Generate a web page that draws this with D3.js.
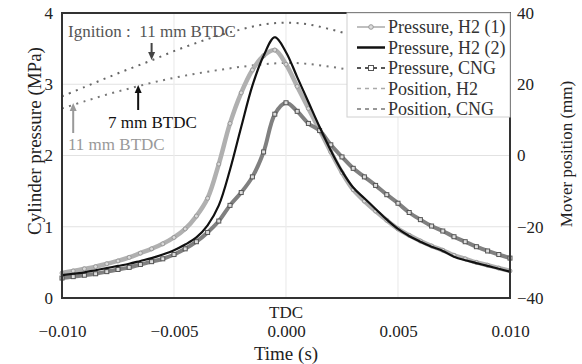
<!DOCTYPE html>
<html>
<head>
<meta charset="utf-8">
<script src="https://cdn.jsdelivr.net/npm/d3@7"></script>
<style>
  body { margin: 0; background: #fff; }
</style>
</head>
<body>
<svg id="chart" width="582" height="364"></svg>
<script>
// time axis for the pressure traces (s)
const timeP = [
  -0.010, -0.0095, -0.009, -0.0085, -0.008, -0.0075, -0.007, -0.0065, -0.006, -0.0055,
  -0.005, -0.0045, -0.004, -0.0035, -0.003, -0.0025, -0.002, -0.0015, -0.001, -0.0005,
  0.000, 0.0005, 0.001, 0.0015, 0.002, 0.0025, 0.003, 0.0035, 0.004, 0.0045,
  0.005, 0.0055, 0.006, 0.0065, 0.007, 0.0075, 0.008, 0.0085, 0.009, 0.0095, 0.010
];
// cylinder pressure (MPa)
const pressureH2a = [
  0.35, 0.38, 0.41, 0.44, 0.48, 0.52, 0.57, 0.63, 0.69, 0.76,
  0.85, 0.97, 1.15, 1.40, 1.88, 2.45, 2.88, 3.20, 3.40, 3.48,
  3.28, 2.97, 2.66, 2.36, 2.05, 1.76, 1.52, 1.36, 1.22, 1.09,
  0.97, 0.88, 0.80, 0.73, 0.67, 0.60, 0.55, 0.50, 0.46, 0.42, 0.38
];
const pressureH2b = [
  0.32, 0.34, 0.36, 0.39, 0.42, 0.45, 0.48, 0.52, 0.56, 0.61,
  0.67, 0.75, 0.85, 1.02, 1.30, 1.80, 2.40, 2.98, 3.40, 3.66,
  3.45, 3.10, 2.75, 2.40, 2.07, 1.78, 1.55, 1.40, 1.25, 1.10,
  0.97, 0.87, 0.79, 0.72, 0.66, 0.58, 0.53, 0.49, 0.45, 0.41, 0.37
];
const pressureCNG = [
  0.28, 0.30, 0.32, 0.34, 0.37, 0.40, 0.43, 0.47, 0.51, 0.55,
  0.61, 0.69, 0.79, 0.92, 1.08, 1.30, 1.48, 1.70, 2.05, 2.58,
  2.74, 2.62, 2.45, 2.35, 2.15, 1.98, 1.82, 1.70, 1.58, 1.45,
  1.33, 1.20, 1.10, 1.01, 0.94, 0.86, 0.79, 0.72, 0.66, 0.61, 0.56
];
// time axis for the mover position (s)
const timeX = [
  -0.010, -0.009, -0.008, -0.007, -0.006, -0.005, -0.004, -0.003, -0.002, -0.001,
  0.000, 0.001, 0.002, 0.003, 0.004, 0.005, 0.006, 0.007, 0.008, 0.009, 0.010
];
// mover position (mm)
const positionH2 = [
  13.2, 15.2, 17.1, 18.8, 20.4, 21.8, 23.0, 24.0, 24.9, 25.6,
  26.0, 25.7, 24.9, 23.9, 22.8, 21.5, 20.1, 18.6, 16.9, 15.0, 13.0
];
const positionCNG = [
  16.6, 19.2, 21.8, 24.3, 26.7, 29.3, 31.6, 33.7, 35.4, 36.8,
  37.3, 36.8, 35.4, 33.6, 31.5, 29.2, 26.7, 24.0, 21.2, 18.4, 15.6
];
const xTicks = [-0.010, -0.005, 0.000, 0.005, 0.010];
const yTicks = [0, 1, 2, 3, 4];
const y2Ticks = [-40, -20, 0, 20, 40];
const legendLabels = ["Pressure, H2 (1)", "Pressure, H2 (2)", "Pressure, CNG", "Position, H2", "Position, CNG"];

const serif = "'Liberation Serif', 'Times New Roman', Times, 'Nimbus Roman', 'DejaVu Serif', serif";

const margin = { top: 13, right: 72, bottom: 66, left: 62 };
const width = 582 - margin.left - margin.right;
const height = 364 - margin.top - margin.bottom;

const svg = d3.select("#chart").attr("font-family", serif);
const g = svg.append("g").attr("transform", `translate(${margin.left},${margin.top})`);

const x = d3.scaleLinear().domain([-0.010, 0.010]).range([0, width]);
const y = d3.scaleLinear().domain([0, 4]).range([height, 0]);
const y2 = d3.scaleLinear().domain([-40, 40]).range([height, 0]);

// grid
g.append("g").selectAll("line").data(yTicks.slice(1, -1)).enter().append("line")
  .attr("x1", 0).attr("x2", width)
  .attr("y1", d => y(d)).attr("y2", d => y(d))
  .attr("stroke", "#e2e2e2").attr("stroke-width", 1.2);
g.append("g").selectAll("line").data(xTicks.slice(1, -1)).enter().append("line")
  .attr("x1", d => x(d)).attr("x2", d => x(d))
  .attr("y1", 0).attr("y2", height)
  .attr("stroke", "#ececec").attr("stroke-width", 1.2);

// axes (labels only, frame drawn below)
const fmt = d3.format(".3f");
const xAxis = g.append("g").attr("transform", `translate(0,${height})`)
  .call(d3.axisBottom(x).tickValues(xTicks).tickFormat(fmt).tickSize(0).tickPadding(27));
const yAxis = g.append("g")
  .call(d3.axisLeft(y).tickValues(yTicks).tickFormat(d3.format("d")).tickSize(0).tickPadding(9));
const y2Axis = g.append("g").attr("transform", `translate(${width},0)`)
  .call(d3.axisRight(y2).tickValues(y2Ticks).tickFormat(d3.format("d")).tickSize(0).tickPadding(7));
[xAxis, yAxis, y2Axis].forEach(a => {
  a.attr("font-family", serif).attr("font-size", 17);
  a.select(".domain").remove();
  a.selectAll("text").attr("fill", "#222");
});

const pts = (ts, vs) => ts.map((t, i) => [t, vs[i]]);
const lineP = d3.line().x(d => x(d[0])).y(d => y(d[1])).curve(d3.curveCatmullRom);
const lineX = d3.line().x(d => x(d[0])).y(d => y2(d[1])).curve(d3.curveCatmullRom);

// position traces
g.append("path").datum(pts(timeX, positionH2)).attr("d", lineX)
  .attr("fill", "none").attr("stroke", "#777").attr("stroke-width", 2)
  .attr("stroke-dasharray", "2,5.5");
g.append("path").datum(pts(timeX, positionCNG)).attr("d", lineX)
  .attr("fill", "none").attr("stroke", "#666").attr("stroke-width", 2)
  .attr("stroke-dasharray", "2,5.5");

// pressure H2 (1) - gray with circles
const h2a = pts(timeP, pressureH2a);
g.append("path").datum(h2a).attr("d", lineP)
  .attr("fill", "none").attr("stroke", "#b0b0b0").attr("stroke-width", 4.5);
g.append("g").selectAll("circle").data(h2a).enter().append("circle")
  .attr("cx", d => x(d[0])).attr("cy", d => y(d[1])).attr("r", 2)
  .attr("fill", "#d8d8d8").attr("stroke", "#999").attr("stroke-width", 1);

// pressure CNG - dark gray with squares
const cng = pts(timeP, pressureCNG);
g.append("path").datum(cng).attr("d", lineP)
  .attr("fill", "none").attr("stroke", "#808080").attr("stroke-width", 4);
g.append("g").selectAll("rect").data(cng).enter().append("rect")
  .attr("x", d => x(d[0]) - 2).attr("y", d => y(d[1]) - 2)
  .attr("width", 4).attr("height", 4)
  .attr("fill", "#ddd").attr("stroke", "#555").attr("stroke-width", 1);

// pressure H2 (2) - black
g.append("path").datum(pts(timeP, pressureH2b)).attr("d", lineP)
  .attr("fill", "none").attr("stroke", "#111").attr("stroke-width", 2.2);

// frame
g.append("rect").attr("width", width).attr("height", height)
  .attr("fill", "none").attr("stroke", "#333").attr("stroke-width", 2);

// annotations
const ann = g.append("g");
ann.append("text").attr("x", 6).attr("y", 24).attr("font-size", 17).attr("fill", "#555")
  .attr("xml:space", "preserve").text("Ignition :  11 mm BTDC");
ann.append("text").attr("x", 46).attr("y", 115).attr("font-size", 17).attr("fill", "#111")
  .text("7 mm BTDC");
ann.append("text").attr("x", 6).attr("y", 137).attr("font-size", 17).attr("fill", "#999")
  .text("11 mm BTDC");
function arrow(x0, y0, y1, color) {
  const dir = y1 > y0 ? 1 : -1;
  ann.append("line").attr("x1", x0).attr("x2", x0).attr("y1", y0).attr("y2", y1 - dir * 6)
    .attr("stroke", color).attr("stroke-width", 2);
  ann.append("path")
    .attr("d", `M${x0 - 3.5},${y1 - dir * 8}L${x0 + 3.5},${y1 - dir * 8}L${x0},${y1}Z`)
    .attr("fill", color);
}
arrow(x(-0.0060), 30, 47, "#444");
arrow(x(-0.0066), 97, 72, "#111");
arrow(x(-0.0095), 120, 90, "#999");

// legend
const lg = g.append("g").attr("transform", `translate(${width - 163},0)`);
lg.append("rect").attr("width", 163).attr("height", 104)
  .attr("fill", "#fff").attr("stroke", "#d0d0d0").attr("stroke-width", 1);
legendLabels.forEach((lab, i) => {
  const cy = 14 + i * 20.5;
  const row = lg.append("g");
  if (i === 0) {
    row.append("line").attr("x1", 10).attr("x2", 38).attr("y1", cy).attr("y2", cy)
      .attr("stroke", "#aaa").attr("stroke-width", 1.5);
    row.append("circle").attr("cx", 24).attr("cy", cy).attr("r", 2.3)
      .attr("fill", "#ddd").attr("stroke", "#999");
  } else if (i === 1) {
    row.append("line").attr("x1", 10).attr("x2", 38).attr("y1", cy).attr("y2", cy)
      .attr("stroke", "#111").attr("stroke-width", 2.5);
  } else if (i === 2) {
    row.append("line").attr("x1", 10).attr("x2", 38).attr("y1", cy).attr("y2", cy)
      .attr("stroke", "#555").attr("stroke-width", 2).attr("stroke-dasharray", "4,4");
    row.append("rect").attr("x", 21.5).attr("y", cy - 2.5).attr("width", 5).attr("height", 5)
      .attr("fill", "#fff").attr("stroke", "#555");
  } else {
    row.append("line").attr("x1", 10).attr("x2", 38).attr("y1", cy).attr("y2", cy)
      .attr("stroke", i === 3 ? "#aaa" : "#777").attr("stroke-width", 1.5)
      .attr("stroke-dasharray", "4,4");
  }
  row.append("text").attr("x", 41).attr("y", cy + 6).attr("font-size", 18).attr("fill", "#333")
    .text(lab);
});

// axis titles
svg.append("text").attr("x", margin.left + x(0)).attr("y", 318).attr("text-anchor", "middle")
  .attr("font-size", 17).attr("fill", "#222").text("TDC");
svg.append("text").attr("x", margin.left + x(0)).attr("y", 360).attr("text-anchor", "middle")
  .attr("font-size", 19).attr("fill", "#222").text("Time (s)");
svg.append("text").attr("transform", "translate(41,141) rotate(-90)")
  .attr("text-anchor", "middle").attr("font-size", 19).attr("fill", "#222")
  .text("Cylinder pressure (MPa)");
svg.append("text").attr("transform", "translate(572,154) rotate(-90)")
  .attr("text-anchor", "middle").attr("font-size", 17).attr("fill", "#222")
  .text("Mover position (mm)");
</script>
</body>
</html>
